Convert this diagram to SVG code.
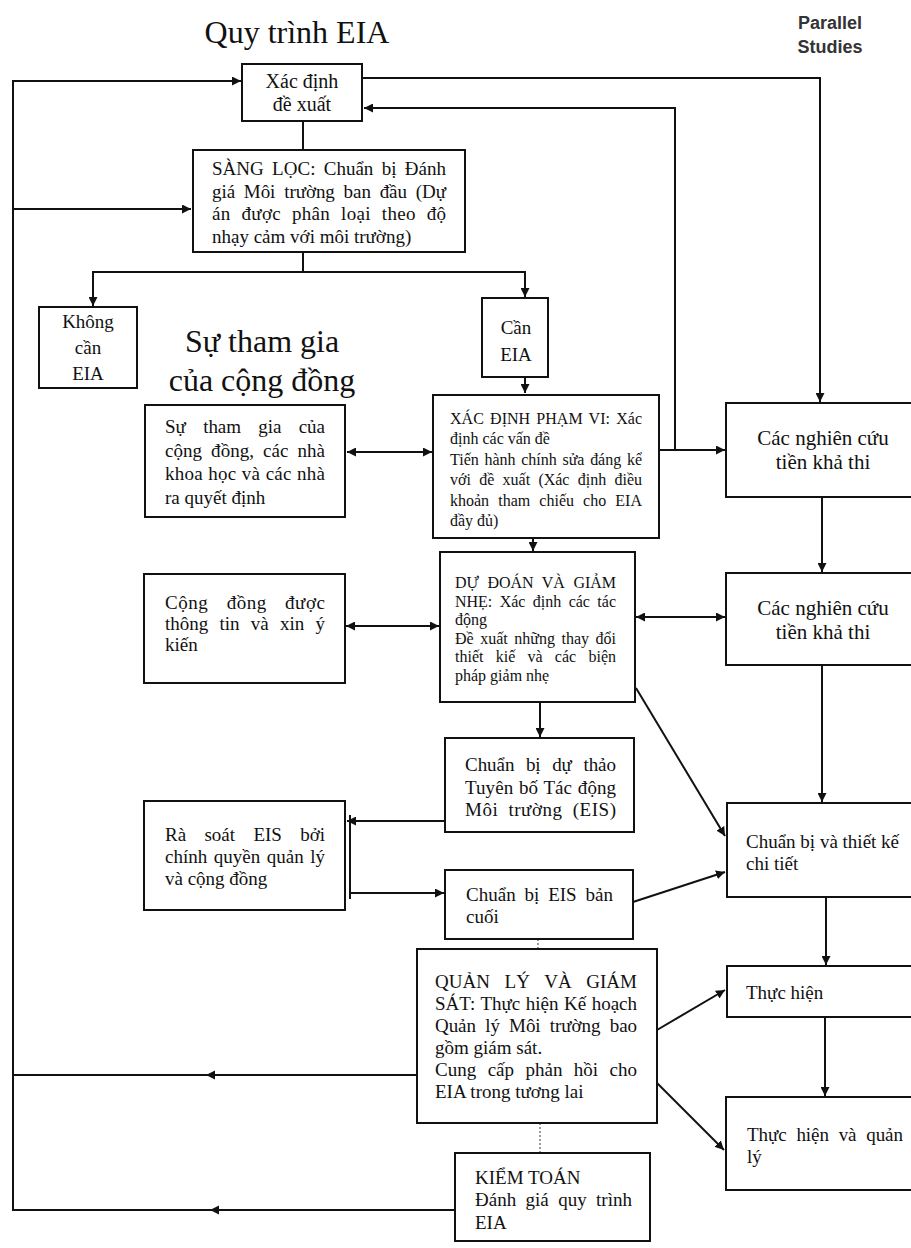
<svg xmlns="http://www.w3.org/2000/svg" width="911" height="1248" viewBox="0 0 911 1248">
<style>
.bx{fill:#fff;stroke:#111;stroke-width:2}
.t{font-family:"Liberation Serif","Times New Roman",serif;font-size:19px;fill:#111}
.s16{font-size:16px}
.s20{font-size:20px}
.s21{font-size:21px}
.big{font-size:32px}
.m{text-anchor:middle}
.c{fill:none;stroke:#111;stroke-width:2}
.d{fill:none;stroke:#999;stroke-width:2;stroke-dasharray:2 2}
.h{font-family:"Liberation Sans",Arial,sans-serif;font-weight:bold;font-size:18px;fill:#333}
</style>
<defs>
<marker id="a" viewBox="0 0 10 10" refX="10" refY="5" markerWidth="9" markerHeight="9" markerUnits="userSpaceOnUse" orient="auto-start-reverse"><path d="M0,0 L10,5 L0,10 z" fill="#111"/></marker>
</defs>
<rect width="911" height="1248" fill="#fff"/>

<text class="t big m" x="297" y="43">Quy trình EIA</text>
<text class="h m" x="830" y="29">Parallel</text>
<text class="h m" x="830" y="53">Studies</text>
<text class="t big m" x="262" y="352">Sự tham gia</text>
<text class="t big m" x="262" y="391">của cộng đồng</text>

<g id="connectors">
<path class="c" d="M455,1210 H13 V81 H241" marker-end="url(#a)"/>
<path d="M210,1210 l9,-4.5 v9 z" fill="#111"/>
<path class="c" d="M417,1075 H13"/>
<path d="M206,1075 l9,-4.5 v9 z" fill="#111"/>
<path class="c" d="M13,209 H191" marker-end="url(#a)"/>
<path class="c" d="M363,78 H820 V402" marker-end="url(#a)"/>
<path class="c" d="M660,450 H725" marker-end="url(#a)"/>
<path class="c" d="M675,450 V108 H364" marker-end="url(#a)"/>
<path class="c" d="M303,121 V150"/>
<path class="c" d="M303,252 V272"/>
<path class="c" d="M303,272 H93 V306" marker-end="url(#a)"/>
<path class="c" d="M303,272 H525 V297" marker-end="url(#a)"/>
<path class="c" d="M525,377 V393" marker-end="url(#a)"/>
<path class="c" d="M432,452 H347" marker-start="url(#a)" marker-end="url(#a)"/>
<path class="c" d="M533,538 V551" marker-end="url(#a)"/>
<path class="c" d="M822,497 V572" marker-end="url(#a)"/>
<path class="c" d="M636,617 H725" marker-start="url(#a)" marker-end="url(#a)"/>
<path class="c" d="M346,626 H439" marker-start="url(#a)" marker-end="url(#a)"/>
<path class="c" d="M540,702 V737" marker-end="url(#a)"/>
<path class="c" d="M636,688 L725,836" marker-end="url(#a)"/>
<path class="c" d="M822,665 V802" marker-end="url(#a)"/>
<path class="c" d="M445,821 H347" marker-end="url(#a)"/>
<path class="c" d="M350,893 H444" marker-end="url(#a)"/>
<path class="c" d="M350,815 V899"/>
<path class="c" d="M633,902 L725,872" marker-end="url(#a)"/>
<path class="c" d="M826,897 V965" marker-end="url(#a)"/>
<path class="c" d="M657,1030 L725,990" marker-end="url(#a)"/>
<path class="c" d="M825,1017 V1096" marker-end="url(#a)"/>
<path class="c" d="M657,1083 L724,1150" marker-end="url(#a)"/>
<path class="d" d="M538,939 V949"/>
<path class="d" d="M540,1123 V1153"/>
</g>

<g id="n-propose">
<rect class="bx" x="242" y="64" width="120" height="57"/>
<text class="t s20 m" x="302" y="88">Xác định</text>
<text class="t s20 m" x="302" y="111">đề xuất</text>
</g>

<g id="n-screening">
<rect class="bx" x="193" y="150" width="272" height="102"/>
<text class="t" x="212" y="175" word-spacing="3.6" textLength="234" lengthAdjust="spacing">SÀNG LỌC: Chuẩn bị Đánh</text>
<text class="t" x="212" y="197.5" word-spacing="4.2" textLength="234" lengthAdjust="spacing">giá Môi trường ban đầu (Dự</text>
<text class="t" x="212" y="220" word-spacing="5.9" textLength="234" lengthAdjust="spacing">án được phân loại theo độ</text>
<text class="t" x="212" y="243">nhạy cảm với môi trường)</text>
</g>

<g id="n-no-eia">
<rect class="bx" x="39" y="307" width="98" height="81"/>
<text class="t m" x="88" y="328">Không</text>
<text class="t m" x="88" y="354">cần</text>
<text class="t m" x="88" y="380">EIA</text>
</g>

<g id="n-eia">
<rect class="bx" x="482" y="298" width="66" height="79"/>
<text class="t m" x="516" y="334">Cần</text>
<text class="t m" x="516" y="361">EIA</text>
</g>

<g id="n-participation">
<rect class="bx" x="145" y="405" width="200" height="112"/>
<text class="t" x="165" y="433" word-spacing="12.7" textLength="160" lengthAdjust="spacing">Sự tham gia của</text>
<text class="t" x="165" y="456.5" word-spacing="4.4" textLength="160" lengthAdjust="spacing">cộng đồng, các nhà</text>
<text class="t" x="165" y="480" word-spacing="0.3" textLength="160" lengthAdjust="spacing">khoa học và các nhà</text>
<text class="t" x="165" y="503.5">ra quyết định</text>
</g>

<g id="n-scoping">
<rect class="bx" x="433" y="395" width="226" height="143"/>
<text class="t s16" x="450" y="424" word-spacing="2.2" textLength="192" lengthAdjust="spacing">XÁC ĐỊNH PHẠM VI: Xác</text>
<text class="t s16" x="450" y="444">định các vấn đề</text>
<text class="t s16" x="450" y="464.5" word-spacing="1.7" textLength="192" lengthAdjust="spacing">Tiến hành chính sửa đáng kể</text>
<text class="t s16" x="450" y="485" word-spacing="4.3" textLength="192" lengthAdjust="spacing">với đề xuất (Xác định điều</text>
<text class="t s16" x="450" y="505.5" word-spacing="5.1" textLength="192" lengthAdjust="spacing">khoản tham chiếu cho EIA</text>
<text class="t s16" x="450" y="526">đầy đủ)</text>
</g>

<g id="n-prefeas1">
<rect class="bx" x="726" y="403" width="200" height="94"/>
<text class="t s21 m" x="823" y="445">Các nghiên cứu</text>
<text class="t s21 m" x="823" y="469">tiền khả thi</text>
</g>

<g id="n-informed">
<rect class="bx" x="144" y="574" width="201" height="109"/>
<text class="t" x="165" y="609" word-spacing="13" textLength="160" lengthAdjust="spacing">Cộng đồng được</text>
<text class="t" x="165" y="630" word-spacing="6.5" textLength="160" lengthAdjust="spacing">thông tin và xin ý</text>
<text class="t" x="165" y="651">kiến</text>
</g>

<g id="n-prediction">
<rect class="bx" x="440" y="552" width="195" height="150"/>
<text class="t s16" x="455" y="588" word-spacing="4.6" textLength="161" lengthAdjust="spacing">DỰ ĐOÁN VÀ GIẢM</text>
<text class="t s16" x="455" y="606.5" word-spacing="3.4" textLength="161" lengthAdjust="spacing">NHẸ: Xác định các tác</text>
<text class="t s16" x="455" y="625">động</text>
<text class="t s16" x="455" y="643.5" word-spacing="2.7" textLength="161" lengthAdjust="spacing">Đề xuất những thay đổi</text>
<text class="t s16" x="455" y="662" word-spacing="8.2" textLength="161" lengthAdjust="spacing">thiết kiế và các biện</text>
<text class="t s16" x="455" y="681">pháp giảm nhẹ</text>
</g>

<g id="n-prefeas2">
<rect class="bx" x="726" y="573" width="200" height="92"/>
<text class="t s21 m" x="823" y="615">Các nghiên cứu</text>
<text class="t s21 m" x="823" y="639">tiền khả thi</text>
</g>

<g id="n-draft-eis">
<rect class="bx" x="445" y="738" width="189" height="94"/>
<text class="t" x="465" y="771" word-spacing="6.9" textLength="151" lengthAdjust="spacing">Chuẩn bị dự thảo</text>
<text class="t" x="465" y="794" word-spacing="0.9" textLength="151" lengthAdjust="spacing">Tuyên bố Tác động</text>
<text class="t" x="465" y="816" word-spacing="4.8" textLength="151" lengthAdjust="spacing">Môi trường (EIS)</text>
</g>

<g id="n-review">
<rect class="bx" x="144" y="801" width="201" height="109"/>
<text class="t" x="165" y="841" word-spacing="13.7" textLength="160" lengthAdjust="spacing">Rà soát EIS bởi</text>
<text class="t" x="165" y="863" word-spacing="1.8" textLength="160" lengthAdjust="spacing">chính quyền quản lý</text>
<text class="t" x="165" y="885">và cộng đồng</text>
</g>

<g id="n-final-eis">
<rect class="bx" x="445" y="870" width="188" height="69"/>
<text class="t" x="466" y="901" word-spacing="4.1" textLength="147" lengthAdjust="spacing">Chuẩn bị EIS bản</text>
<text class="t" x="466" y="923">cuối</text>
</g>

<g id="n-design">
<rect class="bx" x="727" y="803" width="200" height="94"/>
<text class="t" x="746" y="848">Chuẩn bị và thiết kế</text>
<text class="t" x="746" y="870">chi tiết</text>
</g>

<g id="n-management">
<rect class="bx" x="417" y="949" width="240" height="174"/>
<text class="t" x="435" y="988" word-spacing="9.8" textLength="202" lengthAdjust="spacing">QUẢN LÝ VÀ GIÁM</text>
<text class="t" x="435" y="1010" word-spacing="0.8" textLength="202" lengthAdjust="spacing">SÁT: Thực hiện Kế hoạch</text>
<text class="t" x="435" y="1032" word-spacing="4.6" textLength="202" lengthAdjust="spacing">Quản lý Môi trường bao</text>
<text class="t" x="435" y="1054">gồm giám sát.</text>
<text class="t" x="435" y="1076" word-spacing="6.7" textLength="202" lengthAdjust="spacing">Cung cấp phản hồi cho</text>
<text class="t" x="435" y="1098">EIA trong tương lai</text>
</g>

<g id="n-implement">
<rect class="bx" x="727" y="966" width="200" height="51"/>
<text class="t" x="746" y="999">Thực hiện</text>
</g>

<g id="n-implement-manage">
<rect class="bx" x="726" y="1097" width="200" height="93"/>
<text class="t" x="747" y="1141" word-spacing="5" textLength="156" lengthAdjust="spacing">Thực hiện và quản</text>
<text class="t" x="747" y="1163">lý</text>
</g>

<g id="n-audit">
<rect class="bx" x="455" y="1153" width="195" height="88"/>
<text class="t" x="475" y="1184">KIỂM TOÁN</text>
<text class="t" x="475" y="1206" word-spacing="4.6" textLength="157" lengthAdjust="spacing">Đánh giá quy trình</text>
<text class="t" x="475" y="1229">EIA</text>
</g>
</svg>
